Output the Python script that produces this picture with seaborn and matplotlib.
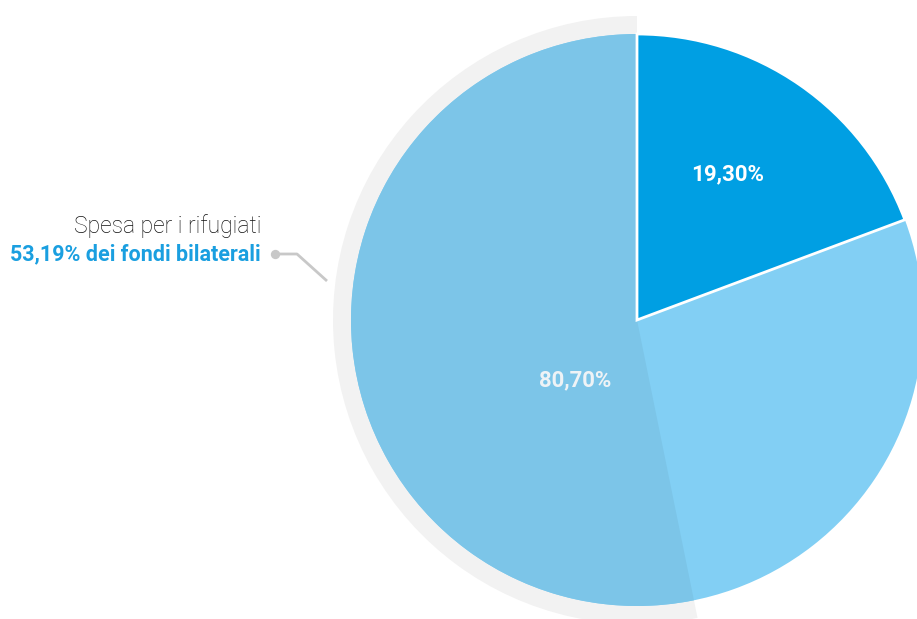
import matplotlib
matplotlib.use("Agg")
import matplotlib.pyplot as plt
import seaborn as sns

sns.set_theme(style="white")
plt.rcParams['font.family'] = ['Roboto', 'DejaVu Sans']

# Data
categories = ["Altro", "Resto dei fondi"]
shares = [19.30, 80.70]
labels = ["19,30%", "80,70%"]
refugee_share = [53.19, 46.81]
annot_title = "Spesa per i rifugiati"
annot_value = "53,19% dei fondi bilaterali"

W, H = 917, 619
fig = plt.figure(figsize=(W / 100, H / 100), dpi=100)
ax = fig.add_axes([0, 0, 1, 1])

cx, cy = 637, H - 320
R = 286
R_ring = 304

dark = "#009fe3"
light = "#82cff4"
overlay = "#7cc5e8"
grey = "#f2f2f2"

# grey ring behind refugee portion
w_ring, _ = ax.pie(refugee_share, colors=[grey, "none"], startangle=90,
                   counterclock=True, radius=R_ring, center=(cx, cy),
                   wedgeprops=dict(linewidth=0), frame=True)
for w in w_ring:
    w.set_zorder(1)

# main pie
w_main, _ = ax.pie(shares, colors=[dark, light], startangle=90,
                   counterclock=False, radius=R, center=(cx, cy),
                   wedgeprops=dict(linewidth=0), frame=True)
w_main[0].set_zorder(4)
w_main[0].set_edgecolor("white")
w_main[0].set_linewidth(2)
w_main[1].set_zorder(2)

# refugee overlay
w_ov, _ = ax.pie(refugee_share, colors=[overlay, "none"], startangle=90,
                 counterclock=True, radius=R, center=(cx, cy),
                 wedgeprops=dict(linewidth=0), frame=True)
for w in w_ov:
    w.set_zorder(3)

ax.set_xlim(0, W)
ax.set_ylim(0, H)
ax.set_aspect("equal")
ax.axis("off")

# percentage labels
ax.text(728, H - 174, labels[0], color="white", fontsize=16, fontweight="bold",
        ha="center", va="center", zorder=5)
ax.text(575, H - 380, labels[1], color="#eef3f6", fontsize=16, fontweight="bold",
        ha="center", va="center", zorder=5)

# annotation
ax.text(262, H - 226, annot_title, color="#111111", fontsize=16.5,
        fontweight="light", ha="right", va="center", zorder=5)
ax.text(261, H - 254, annot_value, color="#1a9fe0", fontsize=15.5,
        fontweight="bold", ha="right", va="center", zorder=5)
ax.plot([275, 297, 327], [H - 254, H - 254, H - 281], color="#c8c8c8",
        lw=2, zorder=5, solid_capstyle="butt")
ax.scatter([275], [H - 254], s=45, color="#c8c8c8", zorder=6, linewidths=0)

fig.savefig("out.png", dpi=100)
